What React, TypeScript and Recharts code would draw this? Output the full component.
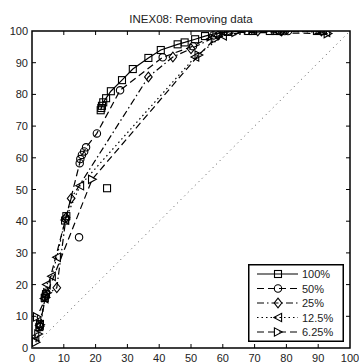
import React from 'react';
import { ComposedChart, Line, XAxis, YAxis, Legend, ReferenceArea } from 'recharts';

const W = 359;
const H = 363;
const M = { top: 31, right: 9, bottom: 0, left: 0 };
const YW = 32;
const XH = 15;
const PLOT_TOP = M.top;
const PLOT_RIGHT = W - M.right;
const FONT = '"Liberation Sans", Arial, Helvetica, sans-serif';

const titleText = 'INEX08: Removing data';
const xTicks = [0, 10, 20, 30, 40, 50, 60, 70, 80, 90, 100];
const yTicks = [0, 10, 20, 30, 40, 50, 60, 70, 80, 90, 100];
const seriesNames = ['100%', '50%', '25%', '12.5%', '6.25%'];

const diag = [{ x: 0, y: 0 }, { x: 100, y: 100 }];

const sq100Line = [
  { x: 21.6, y: 75.0 }, { x: 21.8, y: 75.7 }, { x: 22.0, y: 76.4 }, { x: 22.4, y: 77.5 },
  { x: 23.3, y: 78.8 }, { x: 24.8, y: 81.0 }, { x: 28.3, y: 84.5 }, { x: 31.7, y: 88.0 },
  { x: 36.6, y: 91.5 }, { x: 40.5, y: 94.0 }, { x: 45.8, y: 95.8 }, { x: 48.0, y: 96.4 },
  { x: 51.3, y: 97.4 }, { x: 54.4, y: 98.4 }, { x: 58.0, y: 99.3 }, { x: 61.6, y: 99.7 },
  { x: 68.0, y: 100 }, { x: 69.5, y: 100 }, { x: 74.8, y: 100 }, { x: 76.5, y: 100 },
  { x: 78.0, y: 100 }, { x: 89.6, y: 100 }, { x: 91.5, y: 100 },
];
const sq100Extra = [
  { x: 2.3, y: 6.6 }, { x: 2.5, y: 7.6 }, { x: 4.0, y: 15.8 }, { x: 4.4, y: 17.0 },
  { x: 10.4, y: 40.2 }, { x: 10.8, y: 41.6 }, { x: 23.6, y: 50.4 },
];
const circ50 = [
  { x: 2.5, y: 7.0 }, { x: 4.2, y: 16.2 }, { x: 10.6, y: 40.8 }, { x: 15.0, y: 58.3 },
  { x: 15.2, y: 59.6 }, { x: 15.7, y: 60.9 }, { x: 16.4, y: 62.0 }, { x: 17.0, y: 63.3 },
  { x: 20.4, y: 67.7 }, { x: 27.7, y: 81.3 }, { x: 41.1, y: 91.7 }, { x: 50.6, y: 95.2 },
  { x: 57.0, y: 98.6 }, { x: 60.5, y: 100 }, { x: 79.5, y: 100 }, { x: 80.5, y: 100 },
  { x: 91.5, y: 100 },
];
const circ50Extra = [{ x: 14.8, y: 34.9 }];
const dia25 = [
  { x: 2.6, y: 6.9 }, { x: 4.3, y: 16.6 }, { x: 7.8, y: 19.0 }, { x: 10.7, y: 41.2 },
  { x: 12.3, y: 47.2 }, { x: 36.6, y: 85.5 }, { x: 44.3, y: 91.8 }, { x: 50.0, y: 94.4 },
  { x: 58.5, y: 98.6 }, { x: 71.0, y: 100 }, { x: 78.5, y: 100 }, { x: 91.0, y: 100 },
];
const tri125 = [
  { x: 1.0, y: 3.6 }, { x: 2.4, y: 7.2 }, { x: 3.9, y: 15.6 }, { x: 4.6, y: 20.0 },
  { x: 6.2, y: 22.6 }, { x: 7.8, y: 28.6 }, { x: 10.4, y: 40.4 }, { x: 15.1, y: 51.2 },
  { x: 51.3, y: 91.8 }, { x: 60.0, y: 98.5 }, { x: 77.0, y: 100 }, { x: 92.5, y: 99.6 },
];
const tri625 = [
  { x: 1.2, y: 1.8 }, { x: 2.0, y: 4.4 }, { x: 2.6, y: 7.3 }, { x: 1.6, y: 9.8 },
  { x: 4.3, y: 15.9 }, { x: 4.8, y: 17.4 }, { x: 18.9, y: 53.2 }, { x: 52.4, y: 92.4 },
  { x: 57.5, y: 97.5 }, { x: 64.0, y: 99.6 }, { x: 93.0, y: 99.2 },
];

type Shape = 'square' | 'circle' | 'diamond' | 'left' | 'right';

function marker(shape: Shape, cx: number, cy: number, key?: string) {
  const common = { fill: 'none', stroke: '#000', strokeWidth: 1.1 };
  switch (shape) {
    case 'square':
      return <rect key={key} x={cx - 3.5} y={cy - 3.5} width={7} height={7} {...common} />;
    case 'circle':
      return <circle key={key} cx={cx} cy={cy} r={3.7} {...common} />;
    case 'diamond':
      return (
        <polygon key={key} points={`${cx},${cy - 4.8} ${cx + 3.8},${cy} ${cx},${cy + 4.8} ${cx - 3.8},${cy}`} {...common} />
      );
    case 'left':
      return (
        <polygon key={key} points={`${cx - 4.2},${cy} ${cx + 3.6},${cy - 4.2} ${cx + 3.6},${cy + 4.2}`} {...common} />
      );
    case 'right':
    default:
      return (
        <polygon key={key} points={`${cx + 4.2},${cy} ${cx - 3.6},${cy - 4.2} ${cx - 3.6},${cy + 4.2}`} {...common} />
      );
  }
}

const dotFn = (shape: Shape, name: string) => (props: any) => {
  const { cx, cy, index } = props;
  if (cx == null || cy == null) return <g key={`${name}-${index}`} />;
  return marker(shape, cx, cy, `${name}-${index}`);
};

const DASHED = '7 4';
const DASHDOT = '7 3 1.5 3';
const DOTTED = '1.5 3';

const styles = [
  { name: seriesNames[0], shape: 'square' as Shape, dash: undefined as string | undefined },
  { name: seriesNames[1], shape: 'circle' as Shape, dash: DASHED },
  { name: seriesNames[2], shape: 'diamond' as Shape, dash: DASHDOT },
  { name: seriesNames[3], shape: 'left' as Shape, dash: DOTTED },
  { name: seriesNames[4], shape: 'right' as Shape, dash: DASHED },
];

const XTick = (props: any) => {
  const { x, y, payload } = props;
  const v = payload.value;
  return (
    <g>
      {v > 0 && v < 100 && (
        <>
          <line x1={x} x2={x} y1={y} y2={y - 4} stroke="#000" />
          <line x1={x} x2={x} y1={PLOT_TOP} y2={PLOT_TOP + 4} stroke="#000" />
        </>
      )}
      <text x={x} y={y + 14} textAnchor="middle" fontSize={11} fontFamily={FONT} fill="#222">
        {v}
      </text>
    </g>
  );
};

const YTick = (props: any) => {
  const { x, y, payload } = props;
  const v = payload.value;
  return (
    <g>
      {v > 0 && v < 100 && (
        <>
          <line x1={x} x2={x + 4} y1={y} y2={y} stroke="#000" />
          <line x1={PLOT_RIGHT} x2={PLOT_RIGHT - 4} y1={y} y2={y} stroke="#000" />
        </>
      )}
      <text x={x - 4} y={y + 4} textAnchor="end" fontSize={11} fontFamily={FONT} fill="#222">
        {v}
      </text>
    </g>
  );
};

const LegendBox = () => {
  const rowH = 14.5;
  return (
    <svg width={96} height={78} style={{ display: 'block' }}>
      <rect x={0.75} y={0.75} width={94.5} height={76.5} fill="#fff" stroke="#000" strokeWidth={1.5} />
      {styles.map((s, i) => {
        const cy = 10 + i * rowH;
        return (
          <g key={s.name}>
            <line x1={9} x2={50} y1={cy} y2={cy} stroke="#000" strokeWidth={1.2} strokeDasharray={s.dash} />
            {marker(s.shape, 30, cy)}
            <text x={54} y={cy + 4} fontSize={11} fontFamily={FONT} fill="#222">
              {s.name}
            </text>
          </g>
        );
      })}
    </svg>
  );
};

export default function App() {
  return (
    <div style={{ position: 'fixed', left: 0, top: 0, width: W, height: H, background: '#fff' }}>
      <div
        style={{
          position: 'absolute',
          left: 0,
          width: W,
          top: 12,
          textAlign: 'center',
          paddingLeft: 23,
          boxSizing: 'border-box',
          fontFamily: FONT,
          fontSize: 11.5,
          lineHeight: '14px',
          color: '#222',
        }}
      >
        {titleText}
      </div>
      <ComposedChart width={W} height={H} margin={M}>
        <XAxis
          type="number"
          dataKey="x"
          domain={[0, 100]}
          ticks={xTicks}
          interval={0}
          height={XH}
          tickSize={0}
          tickMargin={0}
          axisLine={false}
          tick={<XTick />}
          allowDataOverflow
        />
        <YAxis
          type="number"
          dataKey="y"
          domain={[0, 100]}
          ticks={yTicks}
          interval={0}
          width={YW}
          tickSize={0}
          tickMargin={0}
          axisLine={false}
          tick={<YTick />}
          allowDataOverflow
        />
        <Line data={diag} dataKey="y" stroke="#555" strokeWidth={1} strokeDasharray="1 4" dot={false} isAnimationActive={false} legendType="none" />
        <Line data={sq100Line} dataKey="y" name={seriesNames[0]} stroke="#000" strokeWidth={1.2} dot={dotFn('square', 'a')} activeDot={false} isAnimationActive={false} />
        <Line data={sq100Extra} dataKey="y" stroke="none" dot={dotFn('square', 'ax')} activeDot={false} isAnimationActive={false} legendType="none" />
        <Line data={circ50} dataKey="y" name={seriesNames[1]} stroke="#000" strokeWidth={1.2} strokeDasharray={DASHED} dot={dotFn('circle', 'b')} activeDot={false} isAnimationActive={false} />
        <Line data={circ50Extra} dataKey="y" stroke="none" dot={dotFn('circle', 'bx')} activeDot={false} isAnimationActive={false} legendType="none" />
        <Line data={dia25} dataKey="y" name={seriesNames[2]} stroke="#000" strokeWidth={1.2} strokeDasharray={DASHDOT} dot={dotFn('diamond', 'c')} activeDot={false} isAnimationActive={false} />
        <Line data={tri125} dataKey="y" name={seriesNames[3]} stroke="#000" strokeWidth={1.2} strokeDasharray={DOTTED} dot={dotFn('left', 'd')} activeDot={false} isAnimationActive={false} />
        <Line data={tri625} dataKey="y" name={seriesNames[4]} stroke="#000" strokeWidth={1.2} strokeDasharray={DASHED} dot={dotFn('right', 'e')} activeDot={false} isAnimationActive={false} />
        <ReferenceArea x1={0} x2={100} y1={0} y2={100} fill="none" stroke="#000" strokeWidth={1.5} ifOverflow="visible" />
        <Legend
          layout="horizontal"
          verticalAlign="middle"
          align="center"
          content={() => <LegendBox />}
          wrapperStyle={{ position: 'absolute', left: 248, top: 264, width: 96, height: 78 }}
        />
      </ComposedChart>
    </div>
  );
}
